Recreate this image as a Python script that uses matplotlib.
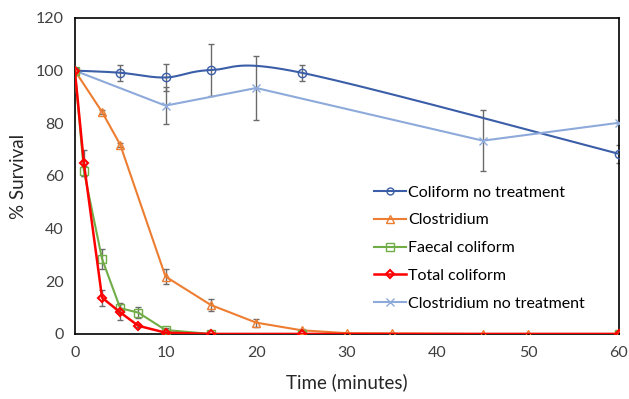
import numpy as np
import matplotlib
matplotlib.use("Agg")
import matplotlib.pyplot as plt

plt.rcParams['font.family'] = ['Lato', 'DejaVu Sans']

# Coliform, untreated (smoothed line)
t_col_nt = [0, 5, 10, 15, 25, 60]
y_col_nt = [100, 99.2, 97.4, 100.2, 99.2, 68.4]
e_col_nt = [0, 3, 5, 10, 3, 3.5]

# Clostridium
t_clos = [0, 3, 5, 10, 15, 20, 25, 30, 35, 45, 50, 60]
y_clos = [100, 84.3, 71.9, 21.8, 11.0, 4.3, 1.4, 0.3, 0.2, 0.0, 0.0, 0.0]
e_clos = [0, 0.8, 0.8, 2.8, 2.3, 1.5, 0.4, 0, 0, 0, 0, 0]

# Faecal coliform
t_faec = [0, 1, 3, 5, 7, 10, 15, 25, 60]
y_faec = [100, 61.8, 28.5, 9.8, 8.1, 1.5, 0.0, 0.0, 0.0]
e_faec = [0, 2, 3.8, 2, 2.2, 0.8, 0, 0, 0]

# Total coliform
t_tot = [0, 1, 3, 5, 7, 10, 15, 25, 60]
y_tot = [100, 64.8, 13.8, 8.2, 3.1, 0.5, 0.0, 0.0, 0.0]
e_tot = [0, 5, 3, 3, 0.5, 0.3, 0, 0, 0]

# Clostridium, untreated
t_clos_nt = [0, 10, 20, 45, 60]
y_clos_nt = [100, 86.7, 93.4, 73.4, 80.2]
e_clos_nt = [0, 7, 12, 11.7, 0]


def smooth(x, y, n=40):
    # bezier smoothing through the points, tangent = (P[i+1]-P[i-1])/6
    p = np.column_stack([x, y]).astype(float)
    ext = np.vstack([p[0], p, p[-1]])
    out = []
    for i in range(len(p) - 1):
        p0, p1, p2, p3 = ext[i], ext[i + 1], ext[i + 2], ext[i + 3]
        c1 = p1 + (p2 - p0) / 6
        c2 = p2 - (p3 - p1) / 6
        s = np.linspace(0, 1, n)[:, None]
        seg = (1 - s) ** 3 * p1 + 3 * (1 - s) ** 2 * s * c1 + 3 * (1 - s) * s ** 2 * c2 + s ** 3 * p2
        out.append(seg)
    seg = np.vstack(out)
    return seg[:, 0], seg[:, 1]


fig = plt.figure(figsize=(6.29, 3.99), dpi=100)
ax = fig.add_axes([0.119, 0.163, 0.865, 0.792])

ecol = '#6b6b6b'
ekw = dict(ecolor=ecol, elinewidth=1, capsize=2.5, capthick=1, linestyle='none')

c_dark = '#3b5ea8'
c_light = '#8eaadb'
c_orange = '#ed7d31'
c_green = '#70ad47'
c_red = '#ff0000'

# error bars
ax.errorbar(t_col_nt, y_col_nt, yerr=e_col_nt, **ekw, zorder=2)
ax.errorbar(t_clos_nt, y_clos_nt, yerr=e_clos_nt, **ekw, zorder=2)
ax.errorbar(t_clos, y_clos, yerr=e_clos, **ekw, zorder=2)
ax.errorbar(t_faec, y_faec, yerr=e_faec, **ekw, zorder=2)
ax.errorbar(t_tot, y_tot, yerr=e_tot, **ekw, zorder=2)

sx, sy = smooth(t_col_nt, y_col_nt)
ax.plot(sx, sy, color=c_dark, lw=1.5, zorder=3)
ax.plot(t_col_nt, y_col_nt, 'o', ms=6, mfc='none', mec=c_dark, mew=1, zorder=4)
ax.plot([], [], '-o', color=c_dark, ms=5, mfc='none', mew=1, lw=1.5, label='Coliform no treatment')

ax.plot(t_clos, y_clos, '-^', color=c_orange, lw=1.5, ms=6, mfc='none', mew=1,
        label='Clostridium', zorder=4)
ax.plot(t_faec, y_faec, '-s', color=c_green, lw=1.5, ms=6, mfc='none', mew=1,
        label='Faecal coliform', zorder=5)
ax.plot(t_tot, y_tot, '-D', color=c_red, lw=1.8, ms=4, mfc='none', mew=1.5,
        label='Total coliform', zorder=6)
ax.plot(t_clos_nt, y_clos_nt, '-x', color=c_light, lw=1.5, ms=6, mew=1,
        label='Clostridium no treatment', zorder=3)

ax.set_xlim(0, 60)
ax.set_ylim(0, 120)
ax.set_xticks(range(0, 61, 10))
ax.set_yticks(range(0, 121, 20))
ax.tick_params(length=0, labelsize=11.5, colors='#404040')
ax.tick_params(axis='x', pad=9)
ax.tick_params(axis='y', pad=8)
for s in ax.spines.values():
    s.set_color('black')
    s.set_linewidth(1.2)

ax.set_xlabel('Time (minutes)', fontsize=13.5, color='#262626', labelpad=9)
ax.set_ylabel('% Survival', fontsize=13.5, color='#262626', labelpad=6)

ax.legend(loc='upper left', bbox_to_anchor=(0.538, 0.49), frameon=False,
          fontsize=11.5, handlelength=2, handletextpad=0.15, labelspacing=0.85,
          borderaxespad=0)

fig.savefig('out.png', dpi=100)
